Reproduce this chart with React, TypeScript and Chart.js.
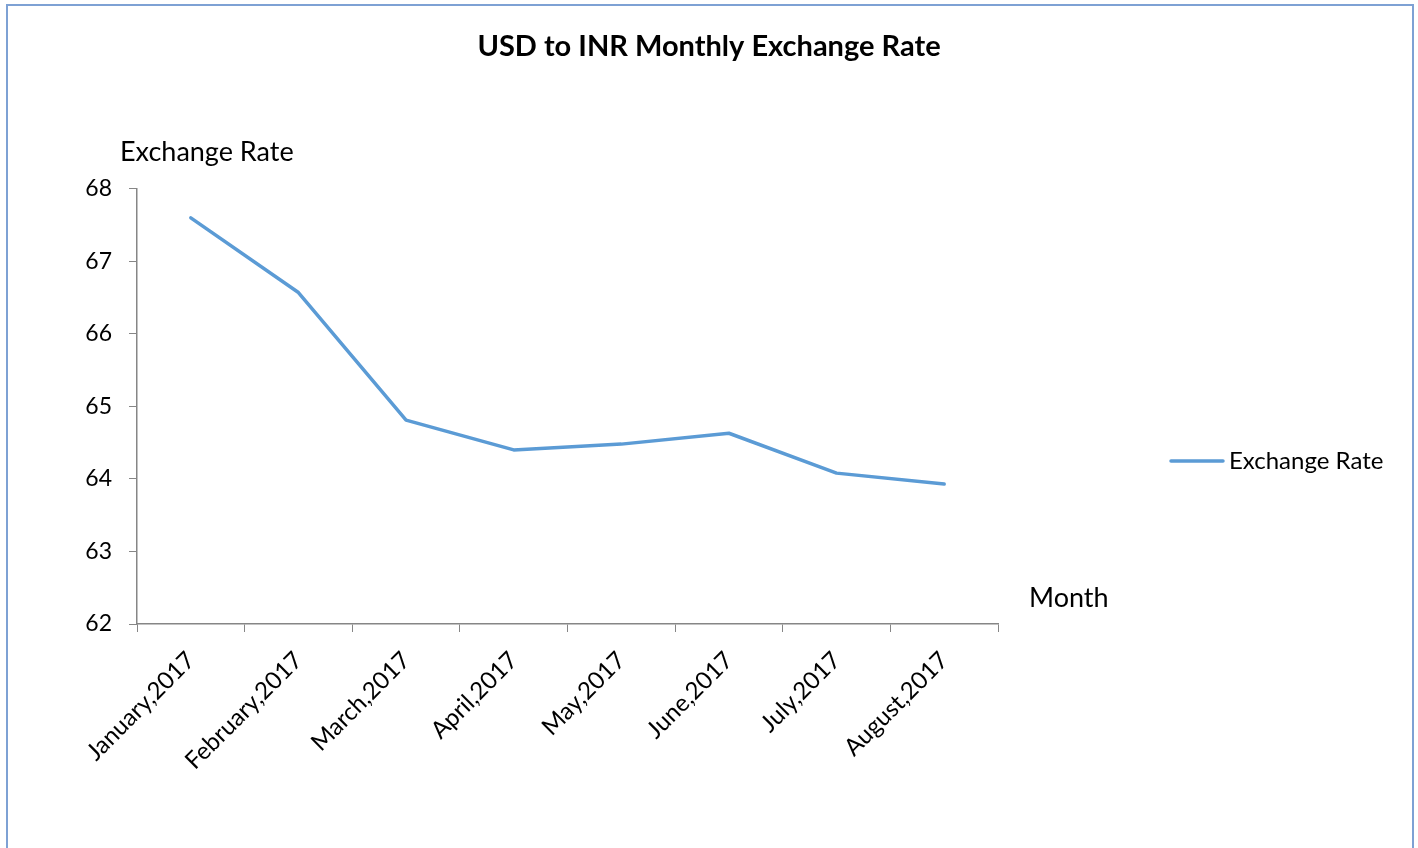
import React, { useEffect, useRef } from "react";
import { Chart, registerables } from "chart.js";

Chart.register(...registerables);

const months = [
  "January,2017",
  "February,2017",
  "March,2017",
  "April,2017",
  "May,2017",
  "June,2017",
  "July,2017",
  "August,2017",
];
const exchangeRate = [67.6, 66.57, 64.81, 64.4, 64.48, 64.63, 64.08, 63.93];
const yMin = 62;
const yMax = 68;
const yStep = 1;

const chartTitle = "USD to INR Monthly Exchange Rate";
const yAxisTitle = "Exchange Rate";
const xAxisTitle = "Month";
const seriesName = "Exchange Rate";

const FONT = "Lato";
const LINE_COLOR = "#5b9bd5";
const AXIS_COLOR = "#868686";

const annotations = {
  id: "excelText",
  afterDraw(chart: any) {
    const { ctx, chartArea } = chart;
    ctx.save();
    ctx.fillStyle = "#000";
    ctx.textBaseline = "middle";
    ctx.textAlign = "left";
    ctx.font = `27px ${FONT}`;
    ctx.fillText(yAxisTitle, chartArea.left - 17, chartArea.top - 37);
    ctx.fillText(xAxisTitle, chartArea.right + 31, chartArea.bottom - 26);
    // legend
    const ly = 461;
    ctx.strokeStyle = LINE_COLOR;
    ctx.lineWidth = 3.5;
    ctx.lineCap = "round";
    ctx.beginPath();
    ctx.moveTo(1171, ly);
    ctx.lineTo(1223, ly);
    ctx.stroke();
    ctx.font = `24px ${FONT}`;
    ctx.fillText(seriesName, 1229, ly);
    ctx.restore();
  },
};

export default function App() {
  const ref = useRef<HTMLCanvasElement | null>(null);

  useEffect(() => {
    if (!ref.current) return;
    const chart = new Chart(ref.current, {
      type: "line",
      data: {
        labels: months,
        datasets: [
          {
            label: seriesName,
            data: exchangeRate,
            borderColor: LINE_COLOR,
            backgroundColor: LINE_COLOR,
            borderWidth: 3.5,
            pointRadius: 0,
            pointHoverRadius: 0,
            tension: 0,
            borderCapStyle: "round",
            borderJoinStyle: "round",
          },
        ],
      },
      options: {
        animation: false,
        responsive: false,
        layout: { padding: 0 },
        plugins: {
          legend: { display: false },
          tooltip: { enabled: false },
          title: {
            display: true,
            text: chartTitle,
            color: "#000",
            font: { family: FONT, size: 29, weight: "bold" },
            padding: { top: 29, bottom: 125 },
          },
        },
        scales: {
          x: {
            type: "category",
            offset: true,
            grid: {
              offset: true,
              drawOnChartArea: false,
              drawTicks: true,
              tickLength: 8,
              color: AXIS_COLOR,
            },
            border: { color: AXIS_COLOR, width: 1.5 },
            ticks: {
              color: "#000",
              font: { family: FONT, size: 24 },
              maxRotation: 45,
              minRotation: 45,
              autoSkip: false,
              padding: 14,
            },
            afterFit(scale: any) {
              scale.height = 224;
            },
          },
          y: {
            min: yMin,
            max: yMax,
            grid: {
              drawOnChartArea: false,
              drawTicks: true,
              tickLength: 8,
              color: AXIS_COLOR,
            },
            border: { color: AXIS_COLOR, width: 1.5 },
            ticks: {
              stepSize: yStep,
              color: "#000",
              font: { family: FONT, size: 23 },
              padding: 17,
            },
            afterFit(scale: any) {
              scale.width = 137;
            },
          },
          spacer: {
            position: "right",
            display: true,
            grid: { display: false, drawTicks: false },
            border: { display: false },
            ticks: { display: false },
            afterFit(scale: any) {
              scale.width = 420;
            },
          },
        },
      },
      plugins: [annotations],
    });
    return () => chart.destroy();
  }, []);

  return (
    <div style={{ position: "fixed", left: 0, top: 0, width: 1418, height: 848, background: "#fff", overflow: "hidden" }}>
      <canvas ref={ref} width={1418} height={848} style={{ display: "block", width: 1418, height: 848 }} />
      <div
        style={{
          position: "absolute",
          left: 6,
          top: 4,
          width: 1404,
          height: 900,
          border: "2px solid #7ea1d4",
          pointerEvents: "none",
        }}
      />
    </div>
  );
}
